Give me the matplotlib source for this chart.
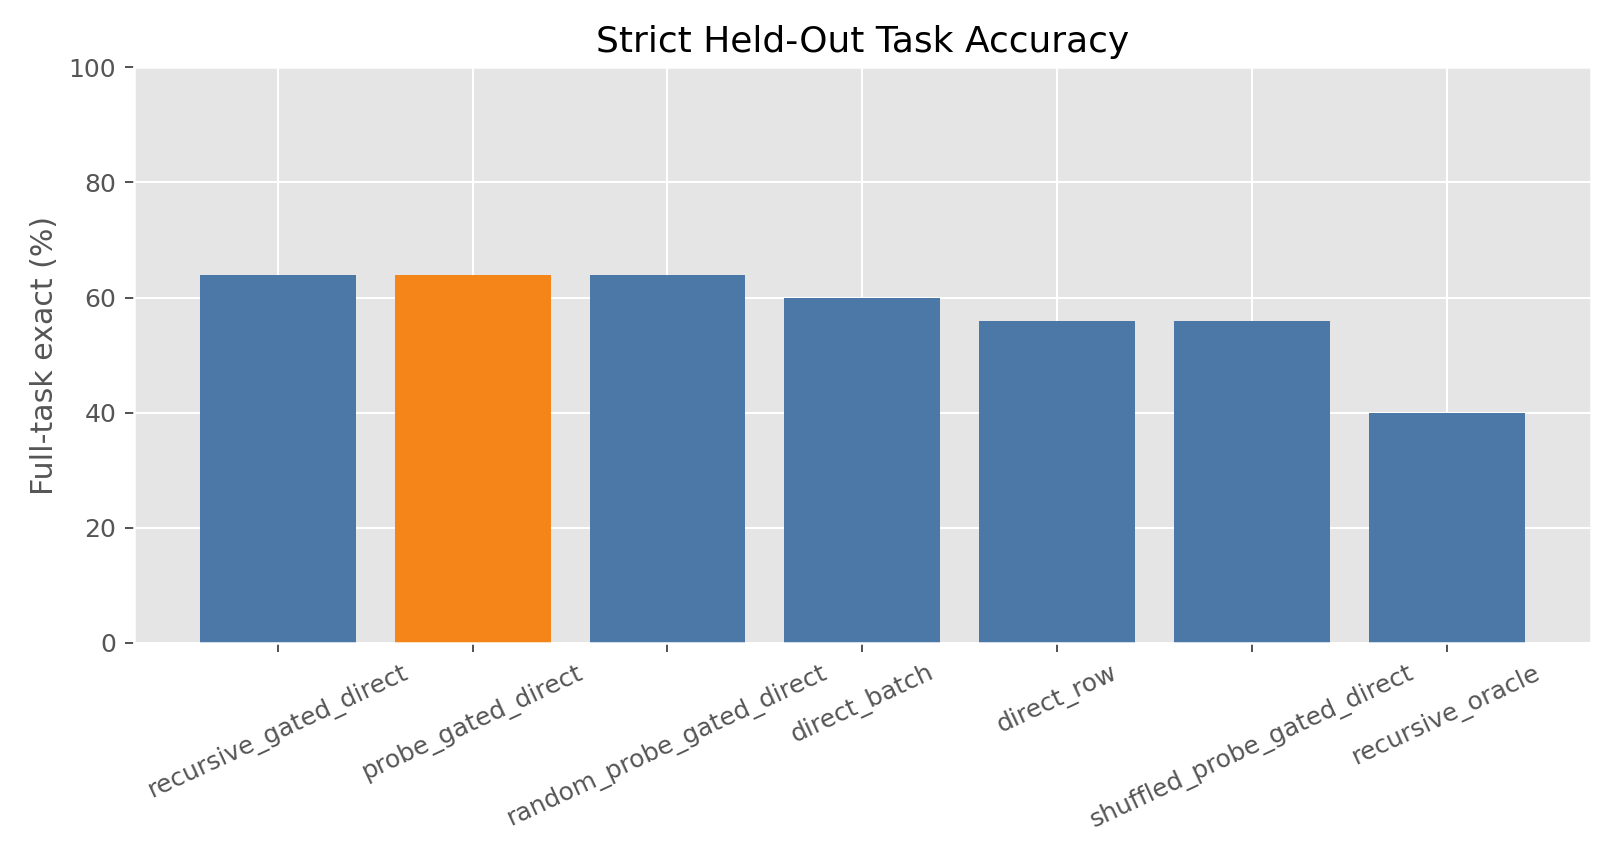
import matplotlib
matplotlib.use("Agg")
import matplotlib.pyplot as plt

plt.style.use("ggplot")

methods = [
    "recursive_gated_direct",
    "probe_gated_direct",
    "random_probe_gated_direct",
    "direct_batch",
    "direct_row",
    "shuffled_probe_gated_direct",
    "recursive_oracle",
]
accuracy = [64, 64, 64, 60, 56, 56, 40]
highlight = "probe_gated_direct"

colors = ["#F58518" if m == highlight else "#4C78A8" for m in methods]

fig, ax = plt.subplots(figsize=(9, 4.8), dpi=180)
ax.bar(methods, accuracy, color=colors)
ax.set_ylim(0, 100)
ax.set_ylabel("Full-task exact (%)")
ax.set_title("Strict Held-Out Task Accuracy")
plt.setp(ax.get_xticklabels(), rotation=25, ha="center")

fig.subplots_adjust(left=0.0825, right=0.982, top=0.922, bottom=0.256)
fig.savefig("out.png", dpi=180)
